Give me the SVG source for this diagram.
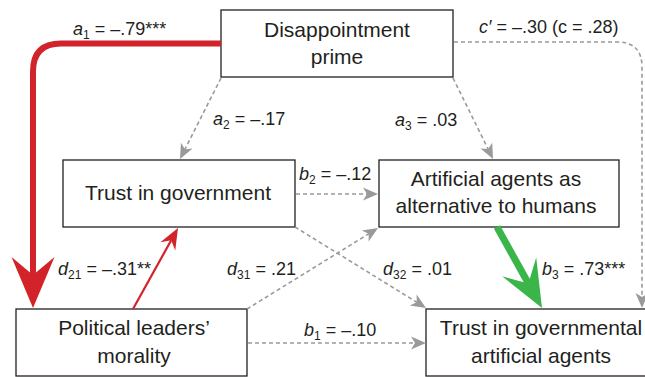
<svg xmlns="http://www.w3.org/2000/svg" width="645" height="377" viewBox="0 0 645 377">
<style>
.box{fill:#fff;stroke:#231f20;stroke-width:1.3}
.nt{font-family:"Liberation Sans",Arial,sans-serif;font-size:21px;fill:#231f20;text-anchor:middle}
.lb{font-family:"Liberation Sans",Arial,sans-serif;font-size:18px;fill:#231f20}
.it{font-style:italic}
.dash{fill:none;stroke:#9a9a9a;stroke-width:1.6;stroke-dasharray:4 3}
</style>
<defs>
<marker id="mg" markerUnits="userSpaceOnUse" viewBox="-16 -7 17 14" markerWidth="17" markerHeight="14" refX="-10" refY="0" orient="auto">
<path d="M0,0 L-15,-6.5 L-11,0 L-15,6.5 Z" fill="#9a9a9a"/>
</marker>
<marker id="mrb" markerUnits="userSpaceOnUse" viewBox="-52 -23 53 46" markerWidth="53" markerHeight="46" refX="-33" refY="0" orient="auto">
<path d="M0,0 L-51,-21.5 L-33,0 L-51,21.5 Z" fill="#d2232a"/>
</marker>
<marker id="mrs" markerUnits="userSpaceOnUse" viewBox="-22 -10 23 20" markerWidth="23" markerHeight="20" refX="-14" refY="0" orient="auto">
<path d="M0,0 L-21,-8.5 L-14,0 L-21,8.5 Z" fill="#d2232a"/>
</marker>
<marker id="mgr" markerUnits="userSpaceOnUse" viewBox="-48 -21 49 42" markerWidth="49" markerHeight="42" refX="-28" refY="0" orient="auto">
<path d="M0,0 L-47,-19.5 L-28,0 L-47,19.5 Z" fill="#39b54a"/>
</marker>
</defs>

<g id="node-disappointment">
<rect class="box" x="221" y="10" width="232" height="67"/>
<text class="nt" x="337" y="37">Disappointment</text>
<text class="nt" x="337" y="64">prime</text>
</g>
<g id="node-trust-gov">
<rect class="box" x="63" y="160" width="232" height="67"/>
<text class="nt" x="178" y="200">Trust in government</text>
</g>
<g id="node-artificial">
<rect class="box" x="379" y="160" width="240" height="67"/>
<text class="nt" x="496" y="186">Artificial agents as</text>
<text class="nt" x="496" y="213">alternative to humans</text>
</g>
<g id="node-political">
<rect class="box" x="16" y="309" width="231" height="67"/>
<text class="nt" x="134" y="335">Political leaders’</text>
<text class="nt" x="134" y="363">morality</text>
</g>
<g id="node-trust-agents">
<rect class="box" x="426" y="309" width="240" height="67"/>
<text class="nt" x="541" y="335">Trust in governmental</text>
<text class="nt" x="541" y="363">artificial agents</text>
</g>

<g id="connectors">
<path d="M221,43.5 H61 Q33,43.5 33,71.5 V275" fill="none" stroke="#d2232a" stroke-width="6" marker-end="url(#mrb)"/>
<line x1="133" y1="309" x2="171.2" y2="240.2" stroke="#d2232a" stroke-width="2.2" marker-end="url(#mrs)"/>
<line x1="497" y1="227" x2="528.4" y2="283.5" stroke="#39b54a" stroke-width="7" marker-end="url(#mgr)"/>
<line class="dash" x1="221" y1="78" x2="184.5" y2="150.1" marker-end="url(#mg)"/>
<line class="dash" x1="453" y1="78" x2="488.6" y2="150" marker-end="url(#mg)"/>
<path class="dash" d="M454,42 H617 Q642,42 642,67 V298" marker-end="url(#mg)"/>
<line class="dash" x1="296" y1="194" x2="368" y2="194" marker-end="url(#mg)"/>
<line class="dash" x1="295" y1="227" x2="417.5" y2="302.7" marker-end="url(#mg)"/>
<line class="dash" x1="247" y1="309" x2="369.5" y2="233.3" marker-end="url(#mg)"/>
<line class="dash" x1="248" y1="343" x2="416" y2="343" marker-end="url(#mg)"/>
</g>

<g id="labels">
<text class="lb" x="73" y="35"><tspan class="it">a</tspan><tspan font-size="12" dy="4">1</tspan><tspan dy="-4"> = –.79***</tspan></text>
<text class="lb" x="213" y="125"><tspan class="it">a</tspan><tspan font-size="12" dy="4">2</tspan><tspan dy="-4"> = –.17</tspan></text>
<text class="lb" x="395" y="126"><tspan class="it">a</tspan><tspan font-size="12" dy="4">3</tspan><tspan dy="-4"> = .03</tspan></text>
<text class="lb" x="479" y="33"><tspan class="it">c′</tspan><tspan> = –.30 (c = .28)</tspan></text>
<text class="lb" x="299" y="180"><tspan class="it">b</tspan><tspan font-size="12" dy="4">2</tspan><tspan dy="-4"> = –.12</tspan></text>
<text class="lb" x="58" y="275"><tspan class="it">d</tspan><tspan font-size="12" dy="4">21</tspan><tspan dy="-4"> = –.31**</tspan></text>
<text class="lb" x="227" y="275"><tspan class="it">d</tspan><tspan font-size="12" dy="4">31</tspan><tspan dy="-4"> = .21</tspan></text>
<text class="lb" x="383" y="275"><tspan class="it">d</tspan><tspan font-size="12" dy="4">32</tspan><tspan dy="-4"> = .01</tspan></text>
<text class="lb" x="542" y="275"><tspan class="it">b</tspan><tspan font-size="12" dy="4">3</tspan><tspan dy="-4"> = .73***</tspan></text>
<text class="lb" x="304" y="336"><tspan class="it">b</tspan><tspan font-size="12" dy="4">1</tspan><tspan dy="-4"> = –.10</tspan></text>
</g>
</svg>
